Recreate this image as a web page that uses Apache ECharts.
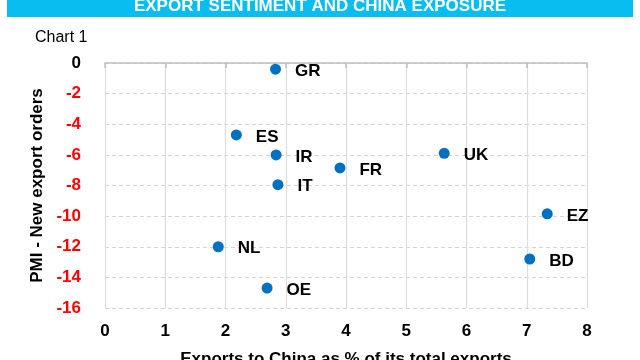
<!DOCTYPE html>
<html>
<head>
<meta charset="utf-8">
<script src="https://cdn.jsdelivr.net/npm/echarts@6/dist/echarts.min.js"></script>
<style>html,body{margin:0;padding:0;background:#fff;}#c{width:640px;height:360px;}</style>
</head>
<body>
<div id="c"></div>
<script>
var countries = ['GR', 'ES', 'IR', 'FR', 'IT', 'UK', 'NL', 'OE', 'EZ', 'BD'];
var chinaShare = [2.83, 2.18, 2.84, 3.90, 2.87, 5.63, 1.88, 2.69, 7.34, 7.05];
var pmiExport = [-0.4, -4.7, -6.0, -6.85, -7.95, -5.9, -12.0, -14.7, -9.85, -12.8];
var xTicks = [0, 1, 2, 3, 4, 5, 6, 7, 8];
var yTicks = [0, -2, -4, -6, -8, -10, -12, -14, -16];

var FONT = '"Liberation Sans Narrow", "Liberation Sans", Arial, sans-serif';
var chart = echarts.init(document.getElementById('c'), null, {renderer: 'canvas'});
var pts = chinaShare.map(function (x, i) { return {value: [x, pmiExport[i]], name: countries[i]}; });

chart.setOption({
  animation: false,
  backgroundColor: '#ffffff',
  graphic: [{
    type: 'rect', left: 7, top: 0, z: 0,
    shape: {width: 626, height: 17},
    style: {fill: '#0ABDF0'}
  }],
  title: [{
    text: 'EXPORT SENTIMENT AND CHINA EXPOSURE',
    left: 'center', top: -7,
    textStyle: {color: '#ffffff', fontFamily: FONT, fontWeight: 'bold', fontSize: 17}
  }, {
    text: 'Chart 1',
    left: 30, top: 25,
    textStyle: {color: '#000', fontFamily: FONT, fontWeight: 'normal', fontSize: 16}
  }],
  grid: {left: 105, right: 53, top: 63, bottom: 52, containLabel: false, outerBoundsMode: 'none'},
  xAxis: {
    type: 'value', min: 0, max: 8, interval: 1,
    name: 'Exports to China as % of its total exports',
    nameLocation: 'middle', nameGap: 43,
    nameTextStyle: {color: '#000', fontFamily: FONT, fontWeight: 'bold', fontSize: 17},
    axisLine: {show: true, lineStyle: {color: '#bfbfbf', width: 1.5}},
    axisTick: {show: true, length: 5, lineStyle: {color: '#bfbfbf', width: 1.5}},
    axisLabel: {
      margin: 15, color: '#000', fontFamily: FONT, fontWeight: 'bold', fontSize: 17,
      formatter: function (v) { return xTicks.indexOf(v) >= 0 ? String(v) : ''; }
    },
    splitLine: {show: true, lineStyle: {color: '#dcdcdc', width: 1.2, type: 'solid'}}
  },
  yAxis: {
    type: 'value', min: -16, max: 0, interval: 2,
    name: 'PMI - New export orders',
    nameLocation: 'middle', nameGap: 53, nameRotate: 90,
    nameTextStyle: {color: '#000', fontFamily: FONT, fontWeight: 'bold', fontSize: 17},
    axisLine: {show: false},
    axisTick: {show: false},
    axisLabel: {
      margin: 24, fontFamily: FONT, fontWeight: 'bold', fontSize: 17,
      formatter: function (v) {
        if (yTicks.indexOf(v) < 0) return '';
        return v === 0 ? '{k|' + v + '}' : '{r|' + v + '}';
      },
      rich: {
        k: {color: '#000', fontFamily: FONT, fontWeight: 'bold', fontSize: 17},
        r: {color: '#ff0000', fontFamily: FONT, fontWeight: 'bold', fontSize: 17}
      }
    },
    splitLine: {show: true, lineStyle: {color: '#d4d4d4', width: 1.2, type: [4, 3]}}
  },
  series: [{
    type: 'scatter',
    data: pts,
    symbol: 'circle',
    symbolSize: 11,
    itemStyle: {color: '#0070C0', opacity: 1},
    label: {
      show: true, position: 'right', distance: 14, offset: [0, 2],
      formatter: function (p) { return p.name; },
      color: '#000', fontFamily: FONT, fontWeight: 'bold', fontSize: 17
    }
  }]
});
</script>
</body>
</html>
